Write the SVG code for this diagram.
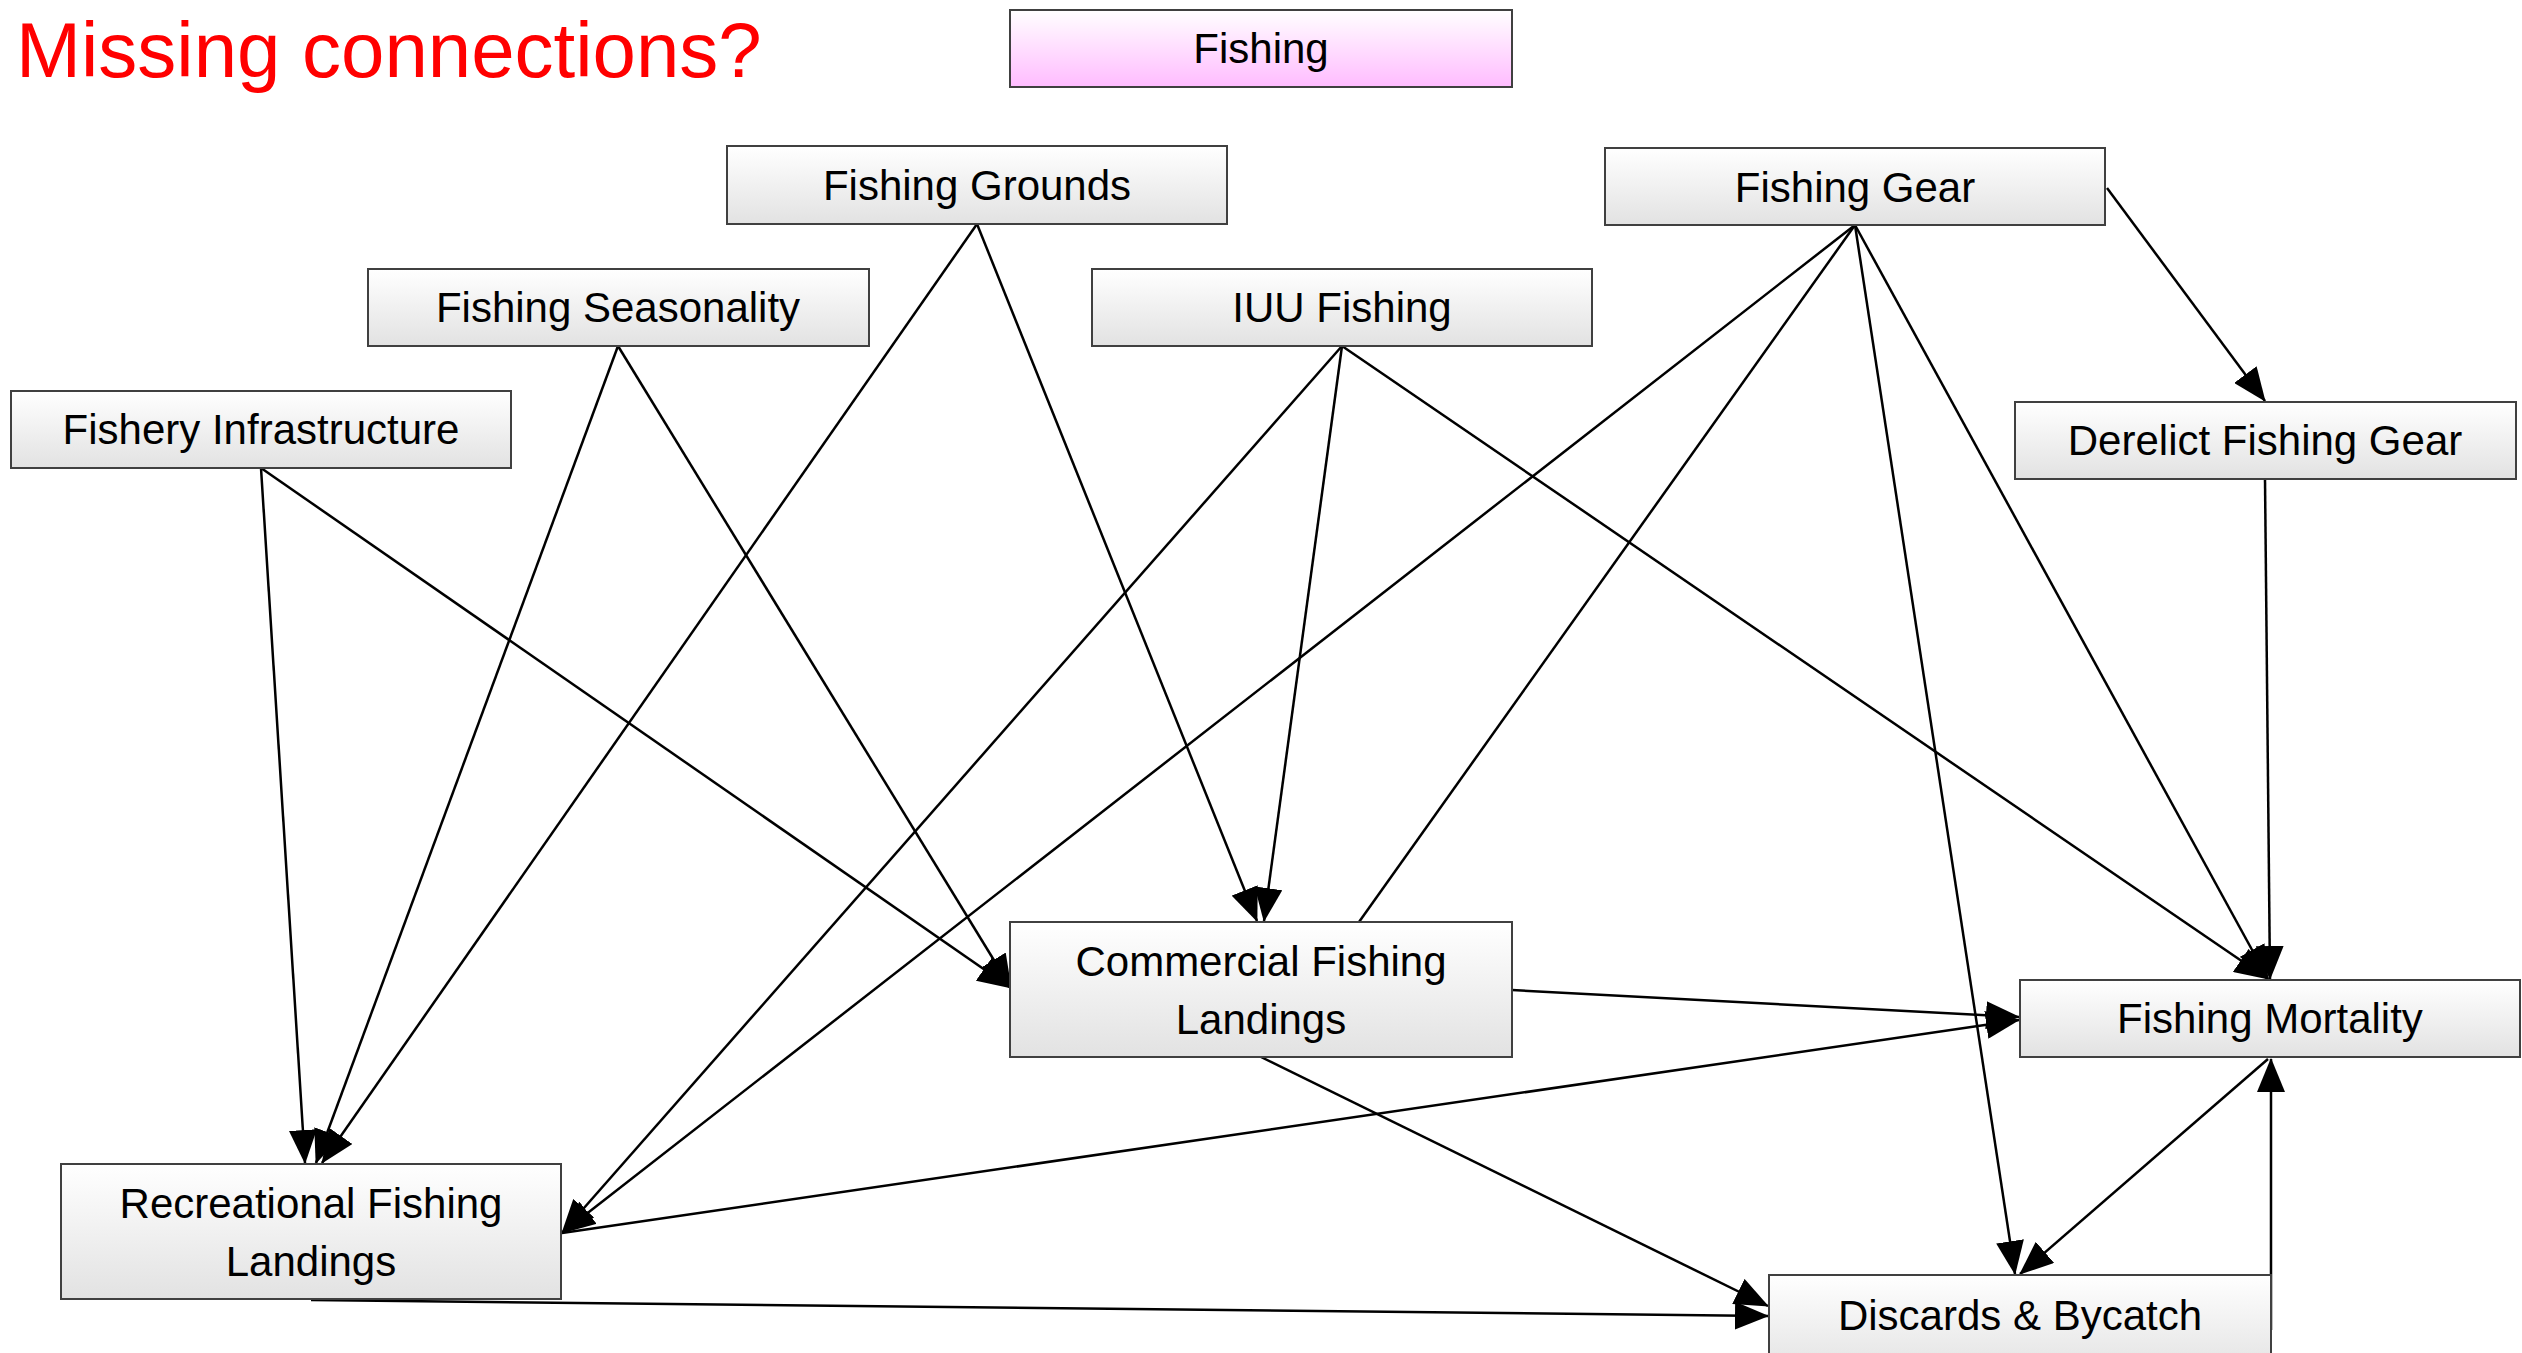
<svg xmlns="http://www.w3.org/2000/svg" width="2522" height="1353" viewBox="0 0 2522 1353">
<defs>
<linearGradient id="gGray" x1="0" y1="0" x2="0" y2="1">
<stop offset="0" stop-color="#ffffff"/>
<stop offset="1" stop-color="#e2e2e2"/>
</linearGradient>
<linearGradient id="gPink" x1="0" y1="0" x2="0" y2="1">
<stop offset="0" stop-color="#ffffff"/>
<stop offset="1" stop-color="#ffbcff"/>
</linearGradient>
<marker id="arr" markerUnits="userSpaceOnUse" markerWidth="34" markerHeight="28" viewBox="0 0 34 28" refX="33" refY="14" orient="auto">
<path d="M0,0 L34,14 L0,28 Z" fill="#000"/>
</marker>
</defs>
<style>
.box{fill:url(#gGray);stroke:#404040;stroke-width:2}
.pink{fill:url(#gPink);stroke:#404040;stroke-width:2}
.lbl{font-family:"Liberation Sans",Arial,sans-serif;font-size:42px;fill:#000;text-anchor:middle}
.title{font-family:"Liberation Sans",Arial,sans-serif;font-size:78px;fill:#ff0000}
.c{fill:none;stroke:#000;stroke-width:2.5}
.a{marker-end:url(#arr)}
</style>
<rect width="2522" height="1353" fill="#fff"/>
<text class="title" x="16" y="77">Missing connections?</text>

<g id="connectors">
<line class="c a" x1="977" y1="224" x2="322" y2="1163"/>
<line class="c a" x1="977" y1="224" x2="1257" y2="921"/>
<line class="c a" x1="618" y1="346" x2="316" y2="1163"/>
<line class="c a" x1="618" y1="346" x2="1011" y2="988"/>
<line class="c a" x1="261" y1="468" x2="305" y2="1163"/>
<line class="c a" x1="261" y1="468" x2="1011" y2="988"/>
<line class="c a" x1="1342" y1="346" x2="562" y2="1233"/>
<line class="c a" x1="1342" y1="346" x2="1264" y2="921"/>
<line class="c a" x1="1342" y1="346" x2="2268" y2="979"/>
<line class="c a" x1="1855" y1="225" x2="562" y2="1233"/>
<line class="c" x1="1855" y1="225" x2="1359" y2="922"/>
<line class="c a" x1="1855" y1="225" x2="2015" y2="1274"/>
<line class="c a" x1="1855" y1="225" x2="2268" y2="979"/>
<line class="c a" x1="2107" y1="188" x2="2265" y2="401"/>
<line class="c a" x1="2265" y1="479" x2="2270" y2="979"/>
<line class="c a" x1="1512" y1="990" x2="2019" y2="1017"/>
<line class="c a" x1="562" y1="1233" x2="2019" y2="1020"/>
<line class="c a" x1="1261" y1="1057" x2="1768" y2="1306"/>
<line class="c a" x1="311" y1="1300" x2="1768" y2="1316"/>
<line class="c a" x1="2268" y1="1059" x2="2020" y2="1274"/>
<line class="c a" x1="2271" y1="1330" x2="2271" y2="1059"/>
</g>

<g id="n-fishing"><rect class="pink" x="1010" y="10" width="502" height="77"/><text class="lbl" x="1261" y="63">Fishing</text></g>
<g id="n-grounds"><rect class="box" x="727" y="146" width="500" height="78"/><text class="lbl" x="977" y="200">Fishing Grounds</text></g>
<g id="n-seasonality"><rect class="box" x="368" y="269" width="501" height="77"/><text class="lbl" x="618" y="322">Fishing Seasonality</text></g>
<g id="n-iuu"><rect class="box" x="1092" y="269" width="500" height="77"/><text class="lbl" x="1342" y="322">IUU Fishing</text></g>
<g id="n-gear"><rect class="box" x="1605" y="148" width="500" height="77"/><text class="lbl" x="1855" y="202">Fishing Gear</text></g>
<g id="n-infra"><rect class="box" x="11" y="391" width="500" height="77"/><text class="lbl" x="261" y="444">Fishery Infrastructure</text></g>
<g id="n-derelict"><rect class="box" x="2015" y="402" width="501" height="77"/><text class="lbl" x="2265" y="455">Derelict Fishing Gear</text></g>
<g id="n-commercial"><rect class="box" x="1010" y="922" width="502" height="135"/><text class="lbl" x="1261" y="976">Commercial Fishing</text><text class="lbl" x="1261" y="1034">Landings</text></g>
<g id="n-mortality"><rect class="box" x="2020" y="980" width="500" height="77"/><text class="lbl" x="2270" y="1033">Fishing Mortality</text></g>
<g id="n-recreational"><rect class="box" x="61" y="1164" width="500" height="135"/><text class="lbl" x="311" y="1218">Recreational Fishing</text><text class="lbl" x="311" y="1276">Landings</text></g>
<g id="n-discards"><rect class="box" x="1769" y="1275" width="502" height="100"/><text class="lbl" x="2020" y="1330">Discards &amp; Bycatch</text></g>
</svg>
